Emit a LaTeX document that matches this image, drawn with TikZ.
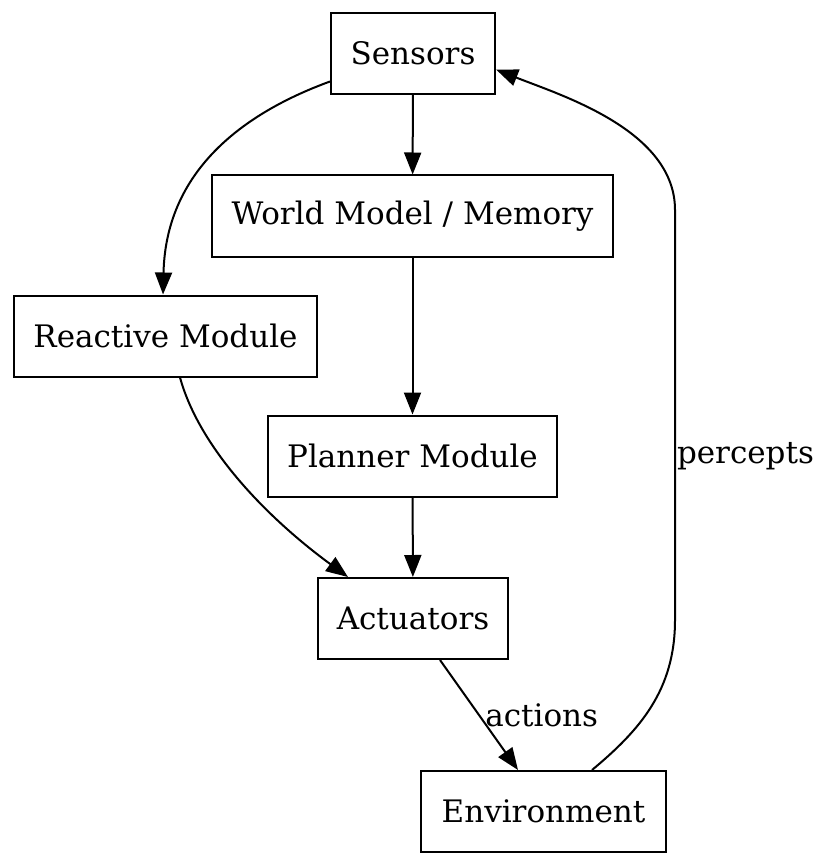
\documentclass[tikz,border=0pt]{standalone}
\usepackage{fontspec}
\setmainfont{DejaVu Serif}
\usepackage{xcolor}
\usetikzlibrary{arrows.meta, positioning}

\begin{document}
\begin{tikzpicture}[x=1pt, y=-1pt, line width=2pt,
  >={Triangle[length=22pt, width=17pt]},
  box/.style={draw, rectangle, minimum height=81pt, inner xsep=4pt, font=\fontsize{31}{36}\selectfont},
  lbl/.style={font=\fontsize{31}{36}\selectfont}]
\useasboundingbox (0,0) rectangle (819,861);
% Modulos
\node[box, minimum width=164pt] (sens) at (413,53.5) {Sensors};
\node[box, minimum width=401pt] (world) at (412.5,216) {World Model / Memory};
\node[box, minimum width=303pt] (react) at (165.5,336) {Reactive Module};
\node[box, minimum width=289pt] (plan) at (412.5,456) {Planner Module};
\node[box, minimum width=190pt] (act) at (413,618.5) {Actuators};
\node[box, minimum width=245pt] (env) at (543.5,811.5) {Environment};
% Conexiones
\path[->]
(sens) edge (world)
(world) edge (plan)
(plan) edge (act);
\draw[->] ([yshift=-28pt]sens.west) .. controls (252,110) and (166,165) .. ([xshift=-2.5pt]react.north);
\draw[->] ([xshift=14.5pt]react.south) .. controls (200,450) and (270,520) .. ([xshift=-65pt]act.north);
\draw[->] ([xshift=27pt]act.south) -- node[lbl, right, pos=0.5, xshift=2pt] {actions} ([xshift=-25.5pt]env.north);
\draw[->] ([xshift=48.5pt]env.north) .. controls (640,730) and (675,690) .. (675,620)
  -- node[lbl, right, pos=0.4, inner sep=1pt] {percepts} (675,210)
  .. controls (675,130) and (560,95) .. ([yshift=-16pt]sens.east);
\end{tikzpicture}
\end{document}
